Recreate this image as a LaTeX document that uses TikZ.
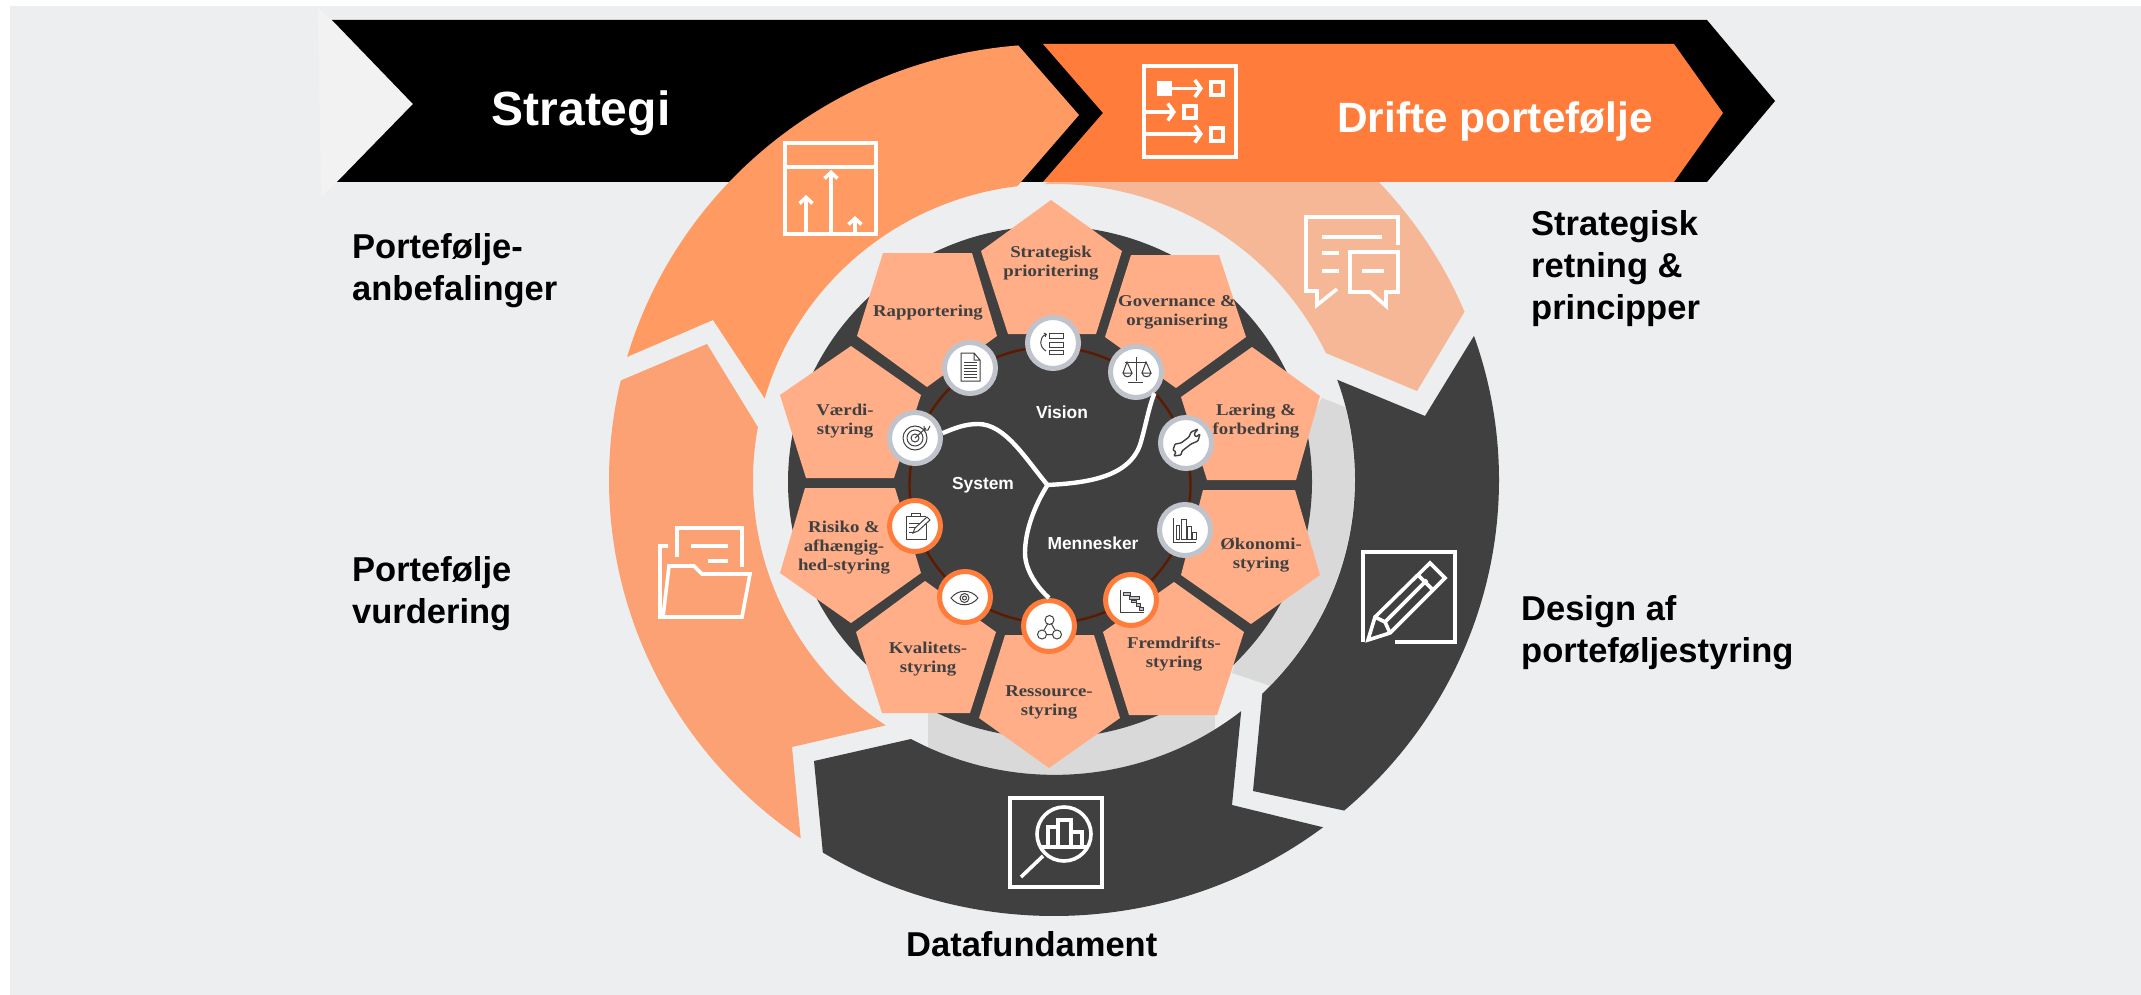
\documentclass[tikz,border=0pt]{standalone}
\usepackage{fontspec}
\usetikzlibrary{arrows.meta}
\newfontfamily\sidefont{Liberation Sans}
\newfontfamily\pentfont[FakeStretch=1.14]{Liberation Serif}
\definecolor{bgrey}{HTML}{EDEEF0}
\definecolor{stripgrey}{HTML}{F2F2F2}
\definecolor{bandgrey}{HTML}{D9D9D9}
\definecolor{darkring}{HTML}{404040}
\definecolor{peachA}{HTML}{FF9A62}
\definecolor{peachB}{HTML}{FBA173}
\definecolor{peachC}{HTML}{F5B796}
\definecolor{pentpeach}{HTML}{FFAE88}
\definecolor{driftorange}{HTML}{FF7C3B}
\definecolor{ringgrey}{HTML}{BFC3CB}
\definecolor{ringred}{HTML}{5C1A00}
\tikzset{
  ringout/.style={x radius=445pt,y radius=436pt},
  ringin/.style={x radius=301pt,y radius=296pt},
  pent/.style={fill=pentpeach},
  pentlabel/.style={font=\pentfont\bfseries\fontsize{16.5}{19}\selectfont,text=darkring,align=center,inner sep=0pt},
  sidelabel/.style={font=\sidefont\bfseries\fontsize{34.5}{42}\selectfont,text=black,align=left,anchor=base west,inner sep=0pt},
  hublabel/.style={font=\sidefont\bfseries\fontsize{17.4}{20}\selectfont,text=white,inner sep=0pt},
  iconcircle/.style={circle,fill=white,line width=5pt,minimum size=51pt,inner sep=0pt},
  whiteicon/.style={draw=white,line width=3.6pt},
  smallicon/.style={draw=darkring,line width=1pt},
  hubline/.style={draw=white,line width=4.4pt},
}
\begin{document}
\begin{tikzpicture}[x=1pt,y=1pt,yscale=-1]
  \useasboundingbox (0,0) rectangle (2141,995);
  \coordinate (ringc) at (1054,480);
  % background
  \fill[bgrey] (10,6) rectangle (2141,995);
  \fill[stripgrey] (318,8) -- (332,20) -- (413,104) -- (337,182) -- (321,197) -- cycle;

  % pale segment
  \fill[peachC] ([shift={(-60:445pt and 436pt)}]ringc) arc[ringout,start angle=-60,end angle=-22.7] -- (1417,391) -- ([shift={(-25.4:301pt and 296pt)}]ringc) arc[ringin,start angle=-25.4,end angle=-92] -- cycle;

  % black chevron
  \fill[black] (332,20) -- (1707,20) -- (1775,101) -- (1707,182) -- (337,182) -- (413,104) -- cycle;

  % grey band
  \fill[bandgrey] (1322,398) -- (1345,407) arc[ringin,start angle=-14.3,end angle=44] -- (1232,673) -- (1290,450) -- cycle;
  \fill[bandgrey] (928,700) -- ([shift={(114.75:301pt and 296pt)}]ringc) arc[ringin,start angle=114.75,end angle=57.7] -- (1215,700) -- cycle;

  % dial
  \fill[darkring] (1050,482) ellipse [x radius=262pt,y radius=256pt];

  % dark segments
  \fill[darkring] ([shift={(-19.3:445pt and 436pt)}]ringc) arc[ringout,start angle=-19.3,end angle=49.3] -- (1253,791) -- ([shift={(46.2:301pt and 296pt)}]ringc) arc[ringin,start angle=46.2,end angle=-19.8] -- (1425,416) -- cycle;
  \fill[darkring] ([shift={(52.8:445pt and 436pt)}]ringc) arc[ringout,start angle=52.8,end angle=121.3] -- (814,761) -- (911,739) arc[ringin,start angle=118.5,end angle=51.7] -- (1232,805) -- cycle;

  % peach segments
  \fill[peachA] ([shift={(196.4:445pt and 436pt)}]ringc) arc[ringout,start angle=196.4,end angle=265.4] -- (1079,115) -- ([shift={(263:301pt and 296pt)}]ringc) arc[ringin,start angle=263,end angle=196] -- (713,320) -- cycle;
  \fill[peachB] ([shift={(124.7:445pt and 436pt)}]ringc) arc[ringout,start angle=124.7,end angle=193.2] -- (707,344) -- ([shift={(190.3:301pt and 296pt)}]ringc) arc[ringin,start angle=190.3,end angle=124] -- (792,747) -- cycle;

  % orange chevron
  \fill[driftorange] (1043,44) -- (1674,44) -- (1723,113) -- (1674,182) -- (1043,182) -- (1103,113) -- cycle;

  % pentagons
  \fill[pent] (1051,200) -- (1122,251) -- (1096,334) -- (1008,334) -- (981,251) -- cycle;
  \fill[pent] (883,253) -- (972,253) -- (997,336) -- (927,387) -- (857,336) -- cycle;
  \fill[pent] (1131,255) -- (1219,255) -- (1246,337) -- (1176,388) -- (1105,337) -- cycle;
  \fill[pent] (851,346) -- (921,395) -- (894,478) -- (806,478) -- (780,395) -- cycle;
  \fill[pent] (1252,347) -- (1320,396) -- (1296,480) -- (1207,480) -- (1181,397) -- cycle;
  \fill[pent] (805,488) -- (895,488) -- (921,573) -- (851,623) -- (780,573) -- cycle;
  \fill[pent] (1203,490) -- (1295,490) -- (1320,575) -- (1251,624) -- (1181,575) -- cycle;
  \fill[pent] (925,581) -- (996,632) -- (970,713) -- (882,713) -- (856,632) -- cycle;
  \fill[pent] (1174,582) -- (1244,632) -- (1217,715) -- (1129,715) -- (1103,632) -- cycle;
  \fill[pent] (1005,635) -- (1094,635) -- (1120,718) -- (1049,768) -- (979,718) -- cycle;

  % inner ring
  \draw[ringred,line width=2.4pt] (1050,485) ellipse [x radius=140.5pt,y radius=138pt];

  % icon circles
  \node[iconcircle,draw=ringgrey,at={(1053,343)}] (ictop) {};
  \node[iconcircle,draw=ringgrey,at={(970,368)}] (icrapport) {};
  \node[iconcircle,draw=ringgrey,at={(1136,372)}] (icgov) {};
  \node[iconcircle,draw=ringgrey,at={(915,438)}] (icvaerdi) {};
  \node[iconcircle,draw=ringgrey,at={(1186,443)}] (iclaering) {};
  \node[iconcircle,draw=ringgrey,at={(1185,530)}] (icokonomi) {};
  \node[iconcircle,draw=driftorange,at={(915,526)}] (icrisiko) {};
  \node[iconcircle,draw=driftorange,at={(965,597)}] (ickvalitet) {};
  \node[iconcircle,draw=driftorange,at={(1049,626)}] (icressource) {};
  \node[iconcircle,draw=driftorange,at={(1131,600)}] (icfremdrift) {};

  % hub lines
  \coordinate (hub) at (1047.5,485);
  \draw[hubline] (hub) .. controls (1025,458) and (1005,424) .. (978,424) .. controls (965,424) and (955,428) .. (icvaerdi.10);
  \draw[hubline] (hub) .. controls (1085,483) and (1128,478) .. (1140,445) .. controls (1146,425) and (1148,410) .. (icgov.-49);
  \draw[hubline] (hub) .. controls (1035,505) and (1025,530) .. (1025,553) .. controls (1025,572) and (1040,590) .. (icressource.90);

  % small icons
  %list
  \draw[smallicon] (1049,333) rectangle (1063,338) (1049,342) rectangle (1063,347) (1049,350) rectangle (1063,354.5);
  \draw[smallicon,{Straight Barb[length=2pt,width=4pt]}-] (1047,334) .. controls (1039,337) and (1039,347) .. (1046,351);
  %page
  \draw[smallicon] (961,353) -- (974,353) -- (980,360) -- (980,381) -- (961,381) -- cycle (974,353) -- (974,360) -- (980,360);
  \foreach \ly in {362,365,368,371,374,377} {\draw[smallicon] (964,\ly) -- (977,\ly);}
  %scales
  \draw[smallicon] (1136,357) -- (1136,381) (1128,382) -- (1143,382) (1125,362) -- (1147,362);
  \draw[smallicon] (1123,373) -- (1127,362) -- (1132,373) -- (1123,373) .. controls (1124,378) and (1131,378) .. (1132,373);
  \draw[smallicon] (1142,373) -- (1146,362) -- (1151,373) -- (1142,373) .. controls (1143,378) and (1150,378) .. (1151,373);
  %target
  \draw[smallicon] (915,438) circle (12pt) (915,438) circle (8pt) (915,438) circle (4pt);
  \draw[smallicon] (915,438) -- (926,428) (924,426) -- (924,430) -- (928,430) -- (930,426);
  %wrench
  \draw[smallicon,line width=1.4pt,rounded corners=1pt] (1191,432) -- (1198,429) -- (1194,434) -- (1196,437) -- (1200,434) -- (1198,441) -- (1191,444) -- (1182,451) -- (1181,455) -- (1174,456) -- (1176,452) -- (1173,450) -- (1175,444) -- (1181,443) -- (1189,437) -- cycle;
  %bars
  \draw[smallicon] (1173,518) -- (1173,542) -- (1196,542);
  \draw[smallicon] (1176,525) rectangle (1179.5,539.5) (1181.5,519) rectangle (1186,539.5) (1187.5,526) rectangle (1191,539.5) (1192.5,532) rectangle (1196,539.5);
  %clipboard
  \draw[smallicon] (926,521) -- (926,539) -- (906,539) -- (906,516) -- (926,516) (911,516) -- (911,513) -- (920,513) -- (920,516);
  \draw[smallicon] (909,523) -- (920,523) (909,527) -- (917,527) (909,532) -- (913,532);
  \draw[smallicon,fill=white] (913,533) -- (915,528) -- (927,517) -- (930,520) -- (918,531) -- cycle;
  %eye
  \draw[smallicon] (951,598) .. controls (958,589) and (971,589) .. (978,598) .. controls (971,607) and (958,607) .. cycle;
  \draw[smallicon] (964.5,598) circle (4.5pt) (964.5,598) circle (2pt);
  %network
  \draw[smallicon] (1049.5,620) circle (4.5pt) (1042,634.5) circle (4.5pt) (1057,634.5) circle (4.5pt);
  \draw[smallicon] (1047.5,624) -- (1044,630) (1051.5,624) -- (1055,630) (1046.5,634.5) -- (1052.5,634.5);
  %gantt
  \draw[smallicon] (1120,590) -- (1120,612.5) -- (1143.5,612.5);
  \draw[smallicon,fill=ringgrey] (1123,592.5) rectangle (1130,595) (1129,596.5) rectangle (1139,599) (1131,600) rectangle (1136,602.5) (1136,603.5) rectangle (1140,606) (1139,607) rectangle (1143,610);

  % big icons
  %table
  \draw[whiteicon] (785,143) rectangle (876,234) (785,167) -- (876,167);
  \draw[whiteicon,-{Straight Barb[length=6pt,width=13pt]}] (806,234) -- (806,195);
  \draw[whiteicon,-{Straight Barb[length=6pt,width=13pt]}] (831,234) -- (831,170);
  \draw[whiteicon,-{Straight Barb[length=6pt,width=13pt]}] (855,234) -- (855,216);
  %flow
  \draw[whiteicon] (1144,66) rectangle (1236,157);
  \fill[white] (1157,81) rectangle (1172,96);
  \draw[whiteicon,-{Straight Barb[length=6pt,width=17pt]}] (1172,88.5) -- (1203,88.5);
  \draw[whiteicon,-{Straight Barb[length=6pt,width=17pt]}] (1144,112) -- (1176,112);
  \draw[whiteicon,-{Straight Barb[length=6pt,width=17pt]}] (1144,134) -- (1203,134);
  \draw[whiteicon] (1211,82) rectangle (1223,95) (1184,106) rectangle (1196,118) (1211,128) rectangle (1223,141);
  %speech
  \draw[whiteicon] (1398,245) -- (1398,217) -- (1306,217) -- (1306,291) -- (1317,291) -- (1317,305) -- (1337,289);
  \draw[whiteicon] (1350,252) -- (1398,252) -- (1398,292) -- (1386,292) -- (1386,306) -- (1370,292) -- (1350,292) -- cycle;
  \draw[whiteicon] (1322,237) -- (1382,237) (1322,253) -- (1339,253) (1322,271) -- (1339,271) (1362,271) -- (1384,271);
  %folder
  \draw[whiteicon] (677,557) -- (677,528) -- (742,528) -- (742,567);
  \draw[whiteicon] (691,546) -- (728,546) (708,561) -- (728,561);
  \draw[whiteicon] (668,546) -- (660,546) -- (660,617) -- (742,617) -- (750,574) -- (702,574) -- (694,566) -- (669,566) -- (663,617);
  %magnifier
  \draw[whiteicon] (1010,798) rectangle (1102,887);
  \draw[whiteicon] (1064,834) circle (27pt);
  \draw[whiteicon] (1040,847) -- (1088,847) (1048,847) -- (1048,827) -- (1058,827) -- (1058,847) (1058,827) -- (1058,820) -- (1071,820) -- (1071,847) (1071,832) -- (1082,832) -- (1082,847);
  \draw[whiteicon] (1043,856) -- (1021,877);
  %pencil
  \draw[whiteicon] (1395,642) -- (1455,642) -- (1455,552) -- (1363,552) -- (1363,642);
  \draw[whiteicon,fill=darkring,miter limit=6] (1368,640) -- (1375,617) -- (1430,563) -- (1445,578) -- (1390,633) -- cycle;
  \draw[whiteicon] (1418,575) -- (1433,590) (1375,617) -- (1385,622) -- (1390,633) (1385,622) -- (1427,580);

  % labels
  \node[at={(581,113)},font=\sidefont\bfseries\fontsize{48}{50}\selectfont,text=white,inner sep=0pt] (strategi) {Strategi};
  \node[at={(1495,122)},font=\sidefont\bfseries\fontsize{42.4}{44}\selectfont,text=white,inner sep=0pt] (drifte) {Drifte portefølje};
  \node[at={(352,300)},sidelabel] (anbefaling) {Portefølje-\\anbefalinger};
  \node[at={(352,623)},sidelabel] (vurdering) {Portefølje\\vurdering};
  \node[at={(1531,319)},sidelabel] (retning) {Strategisk\\retning \&\\principper};
  \node[at={(1521,662)},sidelabel] (design) {Design af\\porteføljestyring};
  \node[at={(906,956)},sidelabel] (data) {Datafundament};
  %hub
  \node[at={(1062,412)},hublabel] (vision) {Vision};
  \node[at={(983,485)},hublabel] (system) {System};
  \node[at={(1093,543)},hublabel] (mennesker) {Mennesker};
  %pentagons
  \node[at={(1051,263)},pentlabel] (lbstrategisk) {Strategisk\\prioritering};
  \node[at={(928,313)},pentlabel] (lbrapport) {Rapportering};
  \node[at={(1177,312)},pentlabel] (lbgov) {Governance \&\\organisering};
  \node[at={(845,421)},pentlabel] (lbvaerdi) {Værdi-\\styring};
  \node[at={(1256,421)},pentlabel] (lblaering) {Læring \&\\forbedring};
  \node[at={(844,548)},pentlabel] (lbrisiko) {Risiko \&\\afhængig-\\hed-styring};
  \node[at={(1261,555)},pentlabel] (lbokonomi) {Økonomi-\\styring};
  \node[at={(928,659)},pentlabel] (lbkvalitet) {Kvalitets-\\styring};
  \node[at={(1174,654)},pentlabel] (lbfremdrift) {Fremdrifts-\\styring};
  \node[at={(1049,702)},pentlabel] (lbressource) {Ressource-\\styring};
\end{tikzpicture}
\end{document}
